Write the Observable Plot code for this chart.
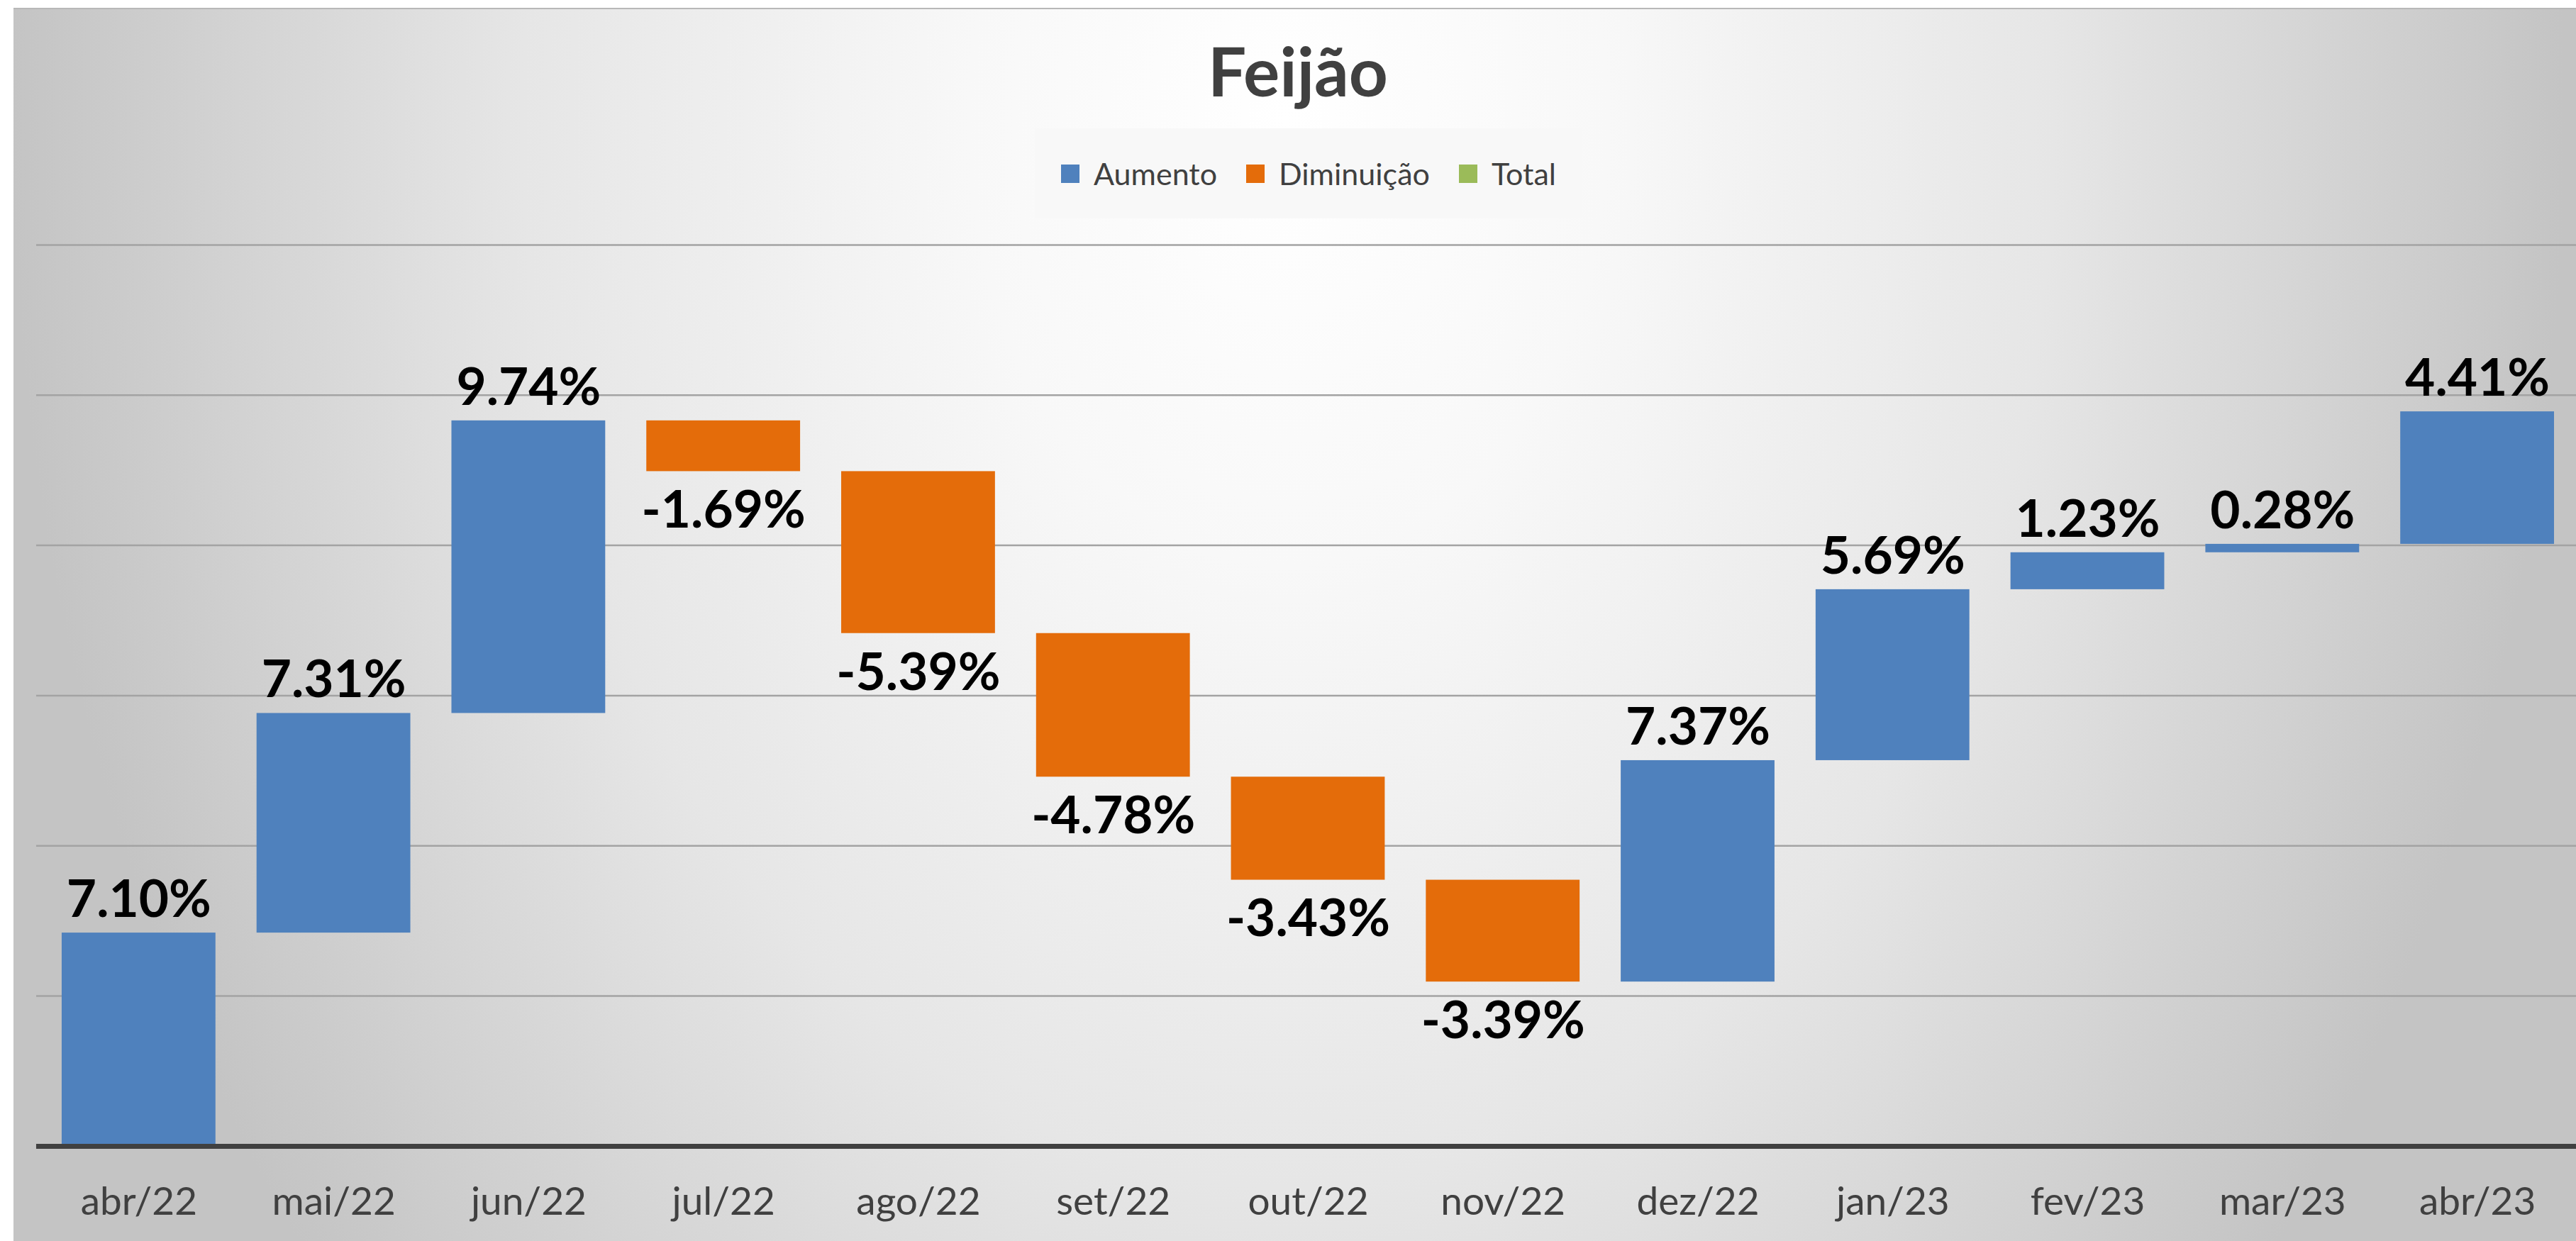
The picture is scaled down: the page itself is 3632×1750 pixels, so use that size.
<!DOCTYPE html>
<html><head><meta charset="utf-8">
<script src="https://cdn.jsdelivr.net/npm/d3@7"></script>
<script src="https://cdn.jsdelivr.net/npm/@observablehq/plot@0.6"></script>
<style>
html,body{margin:0;padding:0;background:#fff;overflow:hidden;}
#page{position:relative;width:3632px;height:1750px;overflow:hidden;font-family:Lato,"Open Sans",sans-serif;}
#panel{position:absolute;left:19px;top:11px;width:3613px;height:1739px;border-top:2px solid #b8b8b8;
  background: radial-gradient(1800px 2500px at 1797px 160px, #ffffff 0%, #f8f8f8 25%, #e6e6e6 60%, #c4c4c4 100%);}
#header{position:relative;height:311px;}
#title{position:absolute;left:0;width:3660px;top:44px;text-align:center;font-weight:700;font-size:96px;line-height:110px;color:#404040;}
#legend{position:absolute;left:1459px;top:181px;width:772px;height:127px;background:rgba(247,247,247,0.9);
  display:flex;align-items:center;justify-content:center;gap:41px;font-size:43px;color:#404040;}
.item{display:flex;align-items:center;}
.sw{width:26px;height:26px;margin-right:20px;display:inline-block;}
#chart{position:relative;}
</style></head>
<body>
<div id="page">
  <div id="panel"></div>
  <div id="header">
    <div id="title"></div>
    <div id="legend"></div>
  </div>
  <div id="chart"></div>
</div>
<script>
const chartTitle = "Feijão";
const months = ["abr/22","mai/22","jun/22","jul/22","ago/22","set/22","out/22","nov/22","dez/22","jan/23","fev/23","mar/23","abr/23"];
const changes = [7.10, 7.31, 9.74, -1.69, -5.39, -4.78, -3.43, -3.39, 7.37, 5.69, 1.23, 0.28, 4.41];
const legendLabels = ["Aumento","Diminuição","Total"];
const legendColors = ["#4F81BD","#E46C0A","#9BBB59"];
const gridValues = [5,10,15,20,25,30];

document.getElementById("title").textContent = chartTitle;
const leg = document.getElementById("legend");
legendLabels.forEach((l,i)=>{
  const it = document.createElement("div"); it.className="item";
  const sw = document.createElement("span"); sw.className="sw"; sw.style.background = legendColors[i];
  const tx = document.createElement("span"); tx.textContent = l;
  it.appendChild(sw); it.appendChild(tx); leg.appendChild(it);
});

let run = 0;
const rows = months.map((m,i)=>{
  const start = run; run += changes[i];
  return {month:m, value:changes[i], start, end:run, type: changes[i] >= 0 ? "Aumento" : "Diminuição"};
});
const fmt = d => d.value.toFixed(2) + "%";

const chart = Plot.plot({
  width: 3635, height: 1439,
  marginTop: 34, marginBottom: 133, marginLeft: 57, marginRight: 0,
  style: {background: "transparent", fontFamily: "Lato, 'Open Sans', sans-serif", overflow: "visible"},
  x: {domain: months, paddingInner: 0.21, paddingOuter: 0.105},
  y: {domain: [0, 30], axis: null},
  color: {domain: legendLabels, range: legendColors},
  marks: [
    Plot.ruleY(gridValues, {stroke: "#a3a3a3", strokeWidth: 2.5, insetLeft: -6}),
    Plot.barY(rows, {x: "month", y1: "start", y2: "end", fill: "type"}),
    Plot.ruleY([0], {stroke: "#404040", strokeWidth: 7, insetLeft: -6}),
    Plot.text(rows.filter(d => d.value >= 0), {x: "month", y: "end", text: fmt, dy: -46, lineAnchor: "middle", fontSize: 73, fontWeight: 700, fill: "#000"}),
    Plot.text(rows.filter(d => d.value < 0), {x: "month", y: "end", text: fmt, dy: 56, lineAnchor: "middle", fontSize: 73, fontWeight: 700, fill: "#000"}),
    Plot.axisX({tickSize: 0, tickPadding: 58, fontSize: 55, color: "#404040", label: null})
  ]
});
document.getElementById("chart").appendChild(chart);
</script>
</body></html>
